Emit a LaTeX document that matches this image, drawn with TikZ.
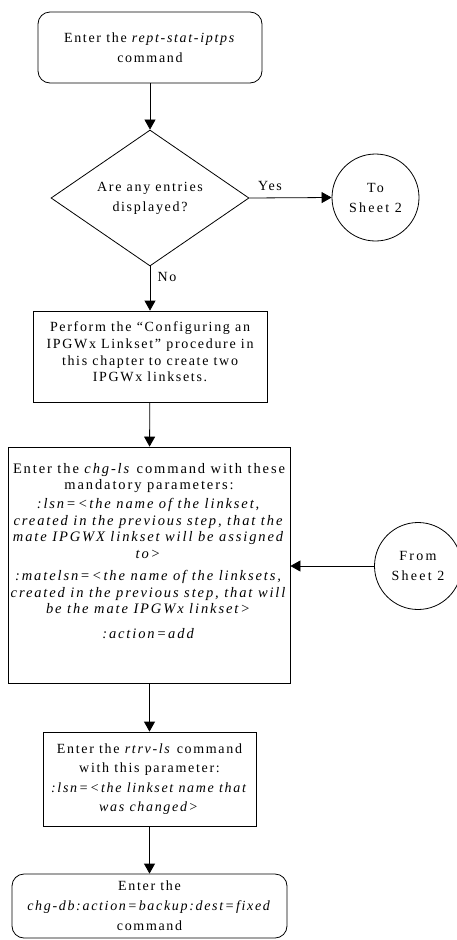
\documentclass[tikz,border=0pt]{standalone}
\usepackage{fontspec}
\setmainfont{Liberation Serif}[LetterSpace=12]
\newfontfamily\fwide{Liberation Serif}[LetterSpace=13]
\newfontfamily\fcirc{Liberation Serif}[LetterSpace=16]
\usetikzlibrary{shapes.geometric,arrows.meta}
\begin{document}
\begin{tikzpicture}[x=1pt,y=-1pt,
  every node/.style={font=\fontsize{14}{20}\selectfont},
  box/.style={draw, line width=0.8pt, align=center, inner sep=0pt},
  rbox/.style={box, rounded corners=12pt},
  conn/.style={circle, draw, line width=0.8pt, align=center, inner sep=0pt,
    font=\fcirc\fontsize{14}{20}\selectfont},
  lbl/.style={inner sep=0pt, align=center},
  arr/.style={-{Triangle[length=10pt,width=11pt]}, line width=0.8pt}]
\useasboundingbox (0,0) rectangle (457,940);

\node[rbox, minimum width=224pt, minimum height=71pt] (start) at (150,47.5)
  {Enter the \textit{rept-stat-iptps}\\command};

\node[diamond, draw, line width=0.8pt, minimum width=198pt, minimum height=136pt, inner sep=0pt] (dec) at (150,198) {};
\node[lbl] (dect) at (dec.center) {Are any entries\\displayed?};

\node[conn, minimum size=87pt] (to) at (375.5,197.5) {To\\Sheet 2};

\node[box, minimum width=234pt, minimum height=91pt] (b2) at (150,356.5) {};
\node[lbl, font=\fontsize{14}{16.7}\selectfont] (b2t) at (150,352)
  {Perform the ``Configuring an\\IPGWx Linkset'' procedure in\\this chapter to create two\\IPGWx linksets.};

\node[box, minimum width=282pt, minimum height=236pt] (b3) at (149,565) {};
\node[lbl, font=\fwide\fontsize{14.5}{16.5}\selectfont] (b3t) at (149,551)
  {Enter the \textit{chg-ls} command with these\\mandatory parameters:\\[2.5pt]
   \textit{:lsn=<the name of the linkset,}\\
   \textit{created in the previous step, that the}\\
   \textit{mate IPGWX linkset will be assigned}\\
   \textit{to>}\\[6pt]
   \textit{:matelsn=<the name of the linksets,}\\
   \textit{created in the previous step, that will}\\
   \textit{be the mate IPGWx linkset>}\\[8pt]
   \textit{:action=add}};

\node[conn, minimum size=87pt] (from) at (418,566) {From\\Sheet 2};

\node[box, minimum width=213pt, minimum height=94pt, font=\fontsize{14}{19.3}\selectfont] (b4) at (149.5,779)
  {Enter the \textit{rtrv-ls} command\\with this parameter:\\
   \textit{:lsn=<the linkset name that}\\\textit{was changed>}};

\node[rbox, minimum width=275pt, minimum height=64pt] (end) at (149.5,906)
  {Enter the\\\textit{chg-db:action=backup:dest=fixed}\\command};

\draw[arr] (start) -- (dec);
\draw[arr] (dec.east) -- (to.west);
\draw[arr] (dec.south) -- (b2.north);
\draw[arr] (b2) -- (b3);
\draw[arr] (from.west) -- (from.west -| b3.east);
\draw[arr] (b3.south -| b4.north) -- (b4.north);
\draw[arr] (b4) -- (end);

\node[lbl] (yes) at (270,186) {Yes};
\node[lbl] (no) at (167,277) {No};
\end{tikzpicture}
\end{document}
